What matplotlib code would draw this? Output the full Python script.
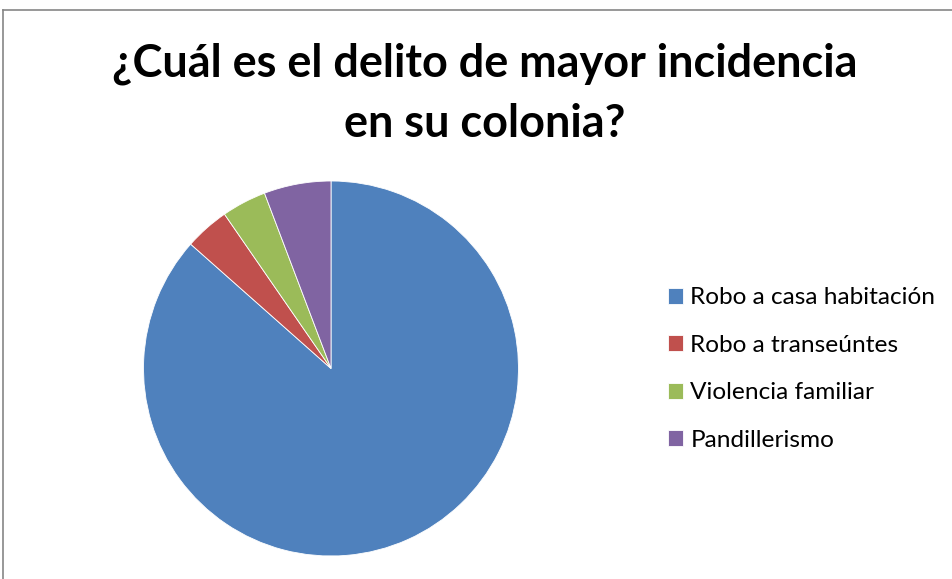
import matplotlib.pyplot as plt
from matplotlib.lines import Line2D

# data
categorias = ["Robo a casa habitación", "Robo a transeúntes",
              "Violencia familiar", "Pandillerismo"]
valores = [45, 2, 2, 3]
colores = ["#4f81bd", "#c0504d", "#9bbb59", "#8064a2"]

titulo = "¿Cuál es el delito de mayor incidencia\nen su colonia?"

fig = plt.figure(figsize=(9.53, 5.79), dpi=100)

# chart area border (top and left visible only)
fig.add_artist(Line2D([3.5 / 953, 1.0], [1 - 10 / 579, 1 - 10 / 579],
                      color="#868686", lw=1.2, transform=fig.transFigure))
fig.add_artist(Line2D([3.5 / 953, 3.5 / 953], [0.0, 1 - 10 / 579],
                      color="#868686", lw=1.2, transform=fig.transFigure))

# pie: centre (331, 368.5), radius 187.5 px
ax = fig.add_axes([(331 - 187.5) / 953, (579 - 556) / 579, 375 / 953, 375 / 579])
wedges, _ = ax.pie(valores, colors=colores, startangle=90, counterclock=False,
                   wedgeprops=dict(linewidth=0.6, edgecolor="white"))
ax.set_xlim(-1, 1)
ax.set_ylim(-1, 1)
ax.set_aspect("equal")
ax.axis("off")

fig.text(485 / 953, 1 - 94 / 579, titulo, ha="center", va="center",
         fontsize=32.4, fontweight="bold", family="Lato", linespacing=1.52)

fig.legend(wedges, categorias, loc="center left",
           bbox_to_anchor=(658 / 953, 1 - 369 / 579), frameon=False,
           prop=dict(family="Lato", size=17.6), handlelength=0.62,
           handleheight=0.62, handletextpad=0.3, labelspacing=1.08,
           borderaxespad=0)

fig.savefig("out.png", dpi=100)
